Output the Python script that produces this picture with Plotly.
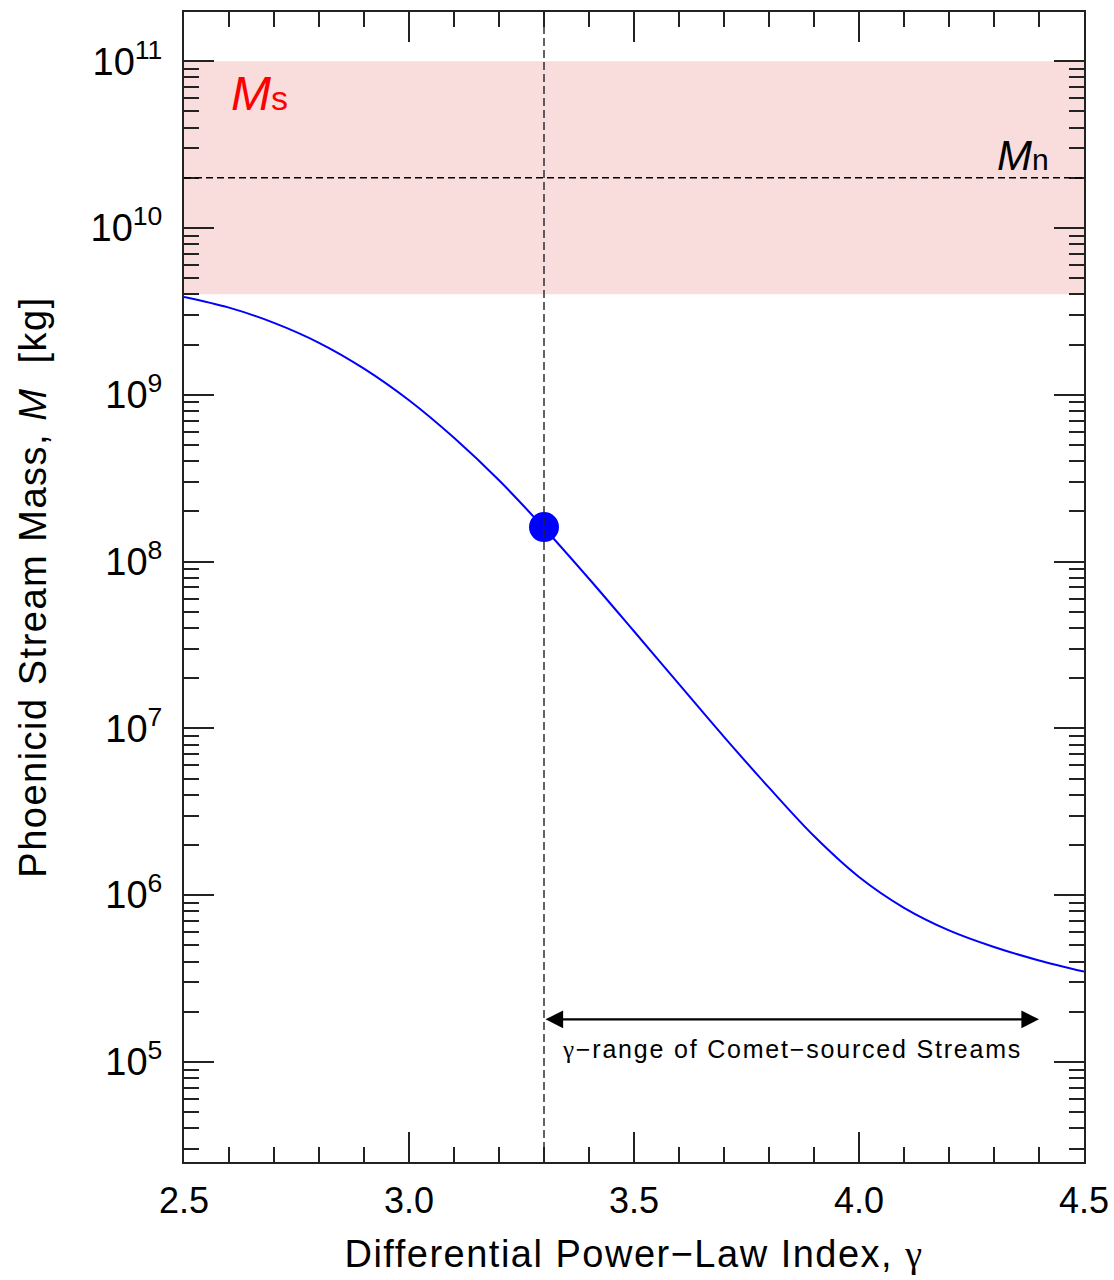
import math
import plotly.graph_objects as go

# Stream mass versus differential power-law index
gamma = [2.5, 2.6, 2.7, 2.8, 2.9, 3.0, 3.1, 3.2, 3.3, 3.4, 3.5,
         3.6, 3.7, 3.8, 3.9, 4.0, 4.1, 4.2, 4.3, 4.4, 4.5]
mass_kg = [3.86e9, 3.33e9, 2.70e9, 2.05e9, 1.435e9, 9.27e8, 5.52e8, 3.07e8, 1.59e8,
           7.89e7, 3.82e7, 1.84e7, 8.89e6, 4.41e6, 2.26e6, 1.285e6, 8.40e5, 6.15e5,
           4.89e5, 4.06e5, 3.48e5]

# Nominal solution
gamma_nom = [3.3]
mass_nom = [1.61e8]

# Reference masses
ms_low, ms_high = 4.0e9, 1.0e11   # M_s band
mn_value = 2.0e10                 # M_n level

# Gamma range of comet-sourced streams
comet_gamma = [3.3, 4.4]
comet_arrow_mass = 1.8e5
comet_label_mass = 1.19e5

x_ticks = [2.5, 3.0, 3.5, 4.0, 4.5]
x_ticklabels = ["2.5", "3.0", "3.5", "4.0", "4.5"]
y_exponents = [5, 6, 7, 8, 9, 10, 11]

FONT = "Liberation Sans, Arial, Helvetica, sans-serif"
GAMMA = "<span style='font-family:Liberation Serif'>γ</span>"


def spaced(text, px):
    return f"<span style='letter-spacing:{px}px'>{text}</span>"


fig = go.Figure()

fig.add_trace(go.Scatter(
    x=gamma, y=mass_kg, mode="lines",
    line=dict(color="#0000ff", width=2, shape="spline", smoothing=1.0),
    hoverinfo="skip", showlegend=False))

fig.add_trace(go.Scatter(
    x=gamma_nom, y=mass_nom, mode="markers",
    marker=dict(color="#0000ff", size=30, line=dict(width=0)),
    showlegend=False))

# M_s band
fig.add_shape(type="rect", xref="x", yref="y", x0=2.5, x1=4.5,
              y0=ms_low, y1=ms_high, fillcolor="#f9dcdc",
              line=dict(width=0), layer="below")
# M_n line
fig.add_shape(type="line", xref="x", yref="y", x0=2.5, x1=4.5,
              y0=mn_value, y1=mn_value,
              line=dict(color="#000000", width=1.5, dash="7px,4px"))
# vertical marker at nominal gamma
fig.add_shape(type="line", xref="x", yref="paper", x0=gamma_nom[0], x1=gamma_nom[0],
              y0=0, y1=1, line=dict(color="#222222", width=1.4, dash="8px,4px"))

# double-headed arrow for comet-sourced range
fig.add_annotation(
    x=comet_gamma[1], y=math.log10(comet_arrow_mass),
    ax=comet_gamma[0], ay=math.log10(comet_arrow_mass),
    xref="x", yref="y", axref="x", ayref="y",
    showarrow=True, arrowhead=2, startarrowhead=2, arrowside="end+start",
    arrowsize=1.6, startarrowsize=1.6, arrowwidth=2.2, arrowcolor="#000000",
    text="")
fig.add_annotation(
    x=sum(comet_gamma) / 2, y=math.log10(comet_label_mass), xref="x", yref="y",
    text=spaced(GAMMA + "−range of Comet−sourced Streams", 1.8),
    showarrow=False, font=dict(family=FONT, size=25, color="#000000"))

# band labels
fig.add_annotation(
    x=2.6, y=math.log10(ms_high) - 0.024, xref="x", yref="y",
    xanchor="left", yanchor="top", showarrow=False,
    text="<i>M</i><span style='font-size:34px'>s</span>",
    font=dict(family=FONT, size=48, color="#ff0000"))
fig.add_annotation(
    x=4.427, y=math.log10(mn_value), xref="x", yref="y", showarrow=False,
    xanchor="right", yanchor="bottom", yshift=-3,
    text="<i>M</i><span style='font-size:30px'>n</span>",
    font=dict(family=FONT, size=42, color="#000000"))

axis_common = dict(
    showline=True, linecolor="#222222", linewidth=2, mirror="ticks",
    ticks="inside", tickcolor="#222222", tickwidth=1.5, ticklen=30,
    showgrid=False, zeroline=False,
)

fig.update_xaxes(
    range=[2.5, 4.5], tickvals=x_ticks, ticktext=x_ticklabels,
    tickfont=dict(family=FONT, size=36, color="#000000"),
    minor=dict(dtick=0.1, tick0=2.5, ticks="inside", ticklen=15,
               tickcolor="#222222", tickwidth=1.5, showgrid=False),
    ticklabelstandoff=6,
    title=dict(text=spaced("Differential Power−Law Index, " + GAMMA, 1.5),
               font=dict(family=FONT, size=38, color="#000000"), standoff=20),
    **axis_common)

fig.update_yaxes(
    type="log", range=[4.4, 11.295],
    tickvals=[10 ** e for e in y_exponents],
    ticktext=[f"10<sup>{e}</sup>" for e in y_exponents],
    tickfont=dict(family=FONT, size=38, color="#000000"),
    minor=dict(dtick="D1", ticks="inside", ticklen=15,
               tickcolor="#222222", tickwidth=1.5, showgrid=False),
    ticklabelstandoff=12,
    title=dict(text=spaced("Phoenicid Stream Mass, <i>M</i>  [kg]", 1.5),
               font=dict(family=FONT, size=38, color="#000000"), standoff=32),
    **axis_common)

fig.update_layout(
    width=1114, height=1280,
    margin=dict(l=184, r=30, t=12, b=118, autoexpand=False),
    plot_bgcolor="#ffffff", paper_bgcolor="#ffffff",
    font=dict(family=FONT, color="#000000"),
    showlegend=False,
)

fig.write_html("out.html")
